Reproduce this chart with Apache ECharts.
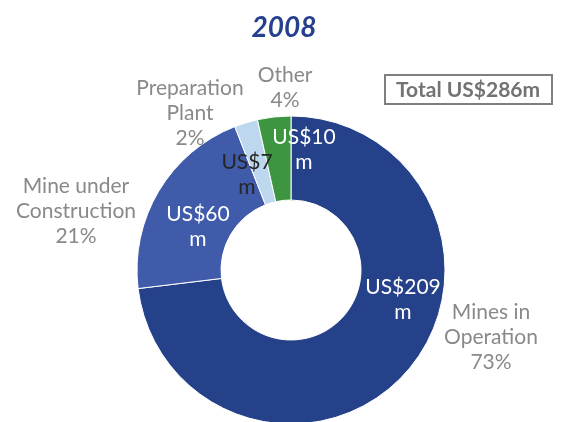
<!DOCTYPE html>
<html>
<head>
<meta charset="utf-8">
<script src="https://cdn.jsdelivr.net/npm/echarts@6/dist/echarts.min.js"></script>
<style>
    html, body { margin: 0; padding: 0; background: #fff; }
    #chart { width: 568px; height: 422px; }
</style>
</head>
<body>
<div id="chart"></div>
<script>
    // 数据
    var categories = ['Mines in\nOperation', 'Mine under\nConstruction', 'Preparation\nPlant', 'Other'];
    var values = [209, 60, 7, 10];
    var percents = ['73%', '21%', '2%', '4%'];
    var colorList = ['#25418a', '#3f5ba9', '#bdd7ee', '#3d963f'];
    var innerTextColor = ['#fff', '#fff', '#262626', '#fff'];
    var totalText = 'Total US$286m';

    // label placement (text only, not marks)
    var innerLabelPos = [[403, 300], [198, 227], [247, 175], [304, 150]];
    var outerLabelPos = [[491, 337], [76, 211], [190, 113], [285, 88]];

    var font = 'Lato, "Noto Sans", sans-serif';

    var chart = echarts.init(document.getElementById('chart'));

    var innerData = values.map(function (v, i) {
        return {
            name: categories[i],
            value: v,
            itemStyle: { color: colorList[i] },
            label: { color: innerTextColor[i] }
        };
    });
    var outerData = values.map(function (v, i) {
        return { name: categories[i], value: v, pct: percents[i] };
    });

    var option = {
        animation: false,
        title: [
            {
                text: '2008',
                left: 'center',
                top: 9,
                textStyle: { color: '#24408e', fontSize: 28, fontWeight: 'bold', fontStyle: 'italic', fontFamily: font }
            },
            {
                text: totalText,
                left: 385,
                top: 75,
                padding: [4, 12, 3, 11],
                borderColor: '#7f7f7f',
                borderWidth: 2,
                textStyle: { color: '#737373', fontSize: 21, fontWeight: 'bold', fontFamily: font, lineHeight: 22 }
            }
        ],
        series: [
            {
                type: 'pie',
                center: [291, 270],
                radius: [70, 154],
                startAngle: 90,
                clockwise: true,
                silent: true,
                itemStyle: { borderColor: '#fff', borderWidth: 1 },
                label: {
                    show: true,
                    position: 'inside',
                    fontSize: 21,
                    lineHeight: 25,
                    fontFamily: font,
                    formatter: function (p) { return 'US$' + p.value + '\nm'; }
                },
                labelLayout: function (p) {
                    var pos = innerLabelPos[p.dataIndex];
                    return { x: pos[0], y: pos[1], align: 'center', verticalAlign: 'middle' };
                },
                data: innerData
            },
            {
                // 外圈的类别标签
                type: 'pie',
                center: [291, 270],
                radius: [70, 154],
                startAngle: 90,
                clockwise: true,
                silent: true,
                itemStyle: { color: 'rgba(0,0,0,0)' },
                labelLine: { show: false },
                label: {
                    show: true,
                    position: 'inside',
                    color: '#898989',
                    fontSize: 21,
                    lineHeight: 25,
                    fontFamily: font,
                    align: 'center',
                    overflow: 'none',
                    formatter: function (p) { return p.name + '\n' + p.data.pct; }
                },
                labelLayout: function (p) {
                    var pos = outerLabelPos[p.dataIndex];
                    return { x: pos[0], y: pos[1], align: 'center', verticalAlign: 'middle' };
                },
                data: outerData
            }
        ]
    };
    chart.setOption(option);
</script>
</body>
</html>
